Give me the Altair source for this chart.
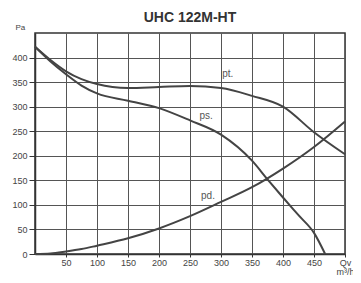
import altair as alt
import pandas as pd

q = [0, 25, 50, 75, 100, 150, 200, 250, 300, 350, 400, 450, 500]
pt = [422, 395, 372, 356, 346, 338, 340, 342, 338, 322, 300, 248, 203]
q_ps = [0, 25, 50, 75, 100, 150, 200, 250, 300, 350, 375, 400, 425, 450, 468]
ps = [422, 392, 366, 343, 327, 312, 297, 272, 243, 190, 152, 115, 79, 43, 0]
pd_vals = [0, 1, 5, 10, 17, 32, 52, 77, 106, 136, 174, 218, 270]

x_ticks = [50, 100, 150, 200, 250, 300, 350, 400, 450, 500]
y_ticks = [0, 50, 100, 150, 200, 250, 300, 350, 400]

label_text = ["pt.", "ps.", "pd."]
label_q = [311, 276, 279]
label_p = [367, 282, 118]

rows = []
for x, y in zip(q, pt):
    rows.append({"Q": x, "P": y, "curve": "pt"})
for x, y in zip(q_ps, ps):
    rows.append({"Q": x, "P": y, "curve": "ps"})
for x, y in zip(q, pd_vals):
    rows.append({"Q": x, "P": y, "curve": "pd"})
df = pd.DataFrame(rows)
labels = pd.DataFrame({"t": label_text, "Q": label_q, "P": label_p})

xscale = alt.Scale(domain=[0, 500], nice=False, zero=True)
yscale = alt.Scale(domain=[0, 450], nice=False)


def xaxis():
    return alt.Axis(values=x_ticks, grid=True,
                    labelExpr="datum.value == 500 ? ['Qv', 'm³/h'] : datum.label",
                    labelOverlap=False, labelFlush=False, title=None,
                    tickSize=3, labelPadding=1, labelLineHeight=9)


def yaxis():
    return alt.Axis(values=y_ticks, grid=True, labelOverlap=False,
                    title="Pa", titleAngle=0, titleX=-20, titleY=-6, titleAlign="left",
                    titleBaseline="middle",
                    titleFontSize=8, titleFontWeight="normal", titleColor="#444",
                    tickSize=6, labelPadding=2)


lines = alt.Chart(df).mark_line(interpolate="monotone", color="#444", strokeWidth=2).encode(
    x=alt.X("Q:Q", scale=xscale, axis=xaxis()),
    y=alt.Y("P:Q", scale=yscale, axis=yaxis()),
    detail="curve:N",
)

text = alt.Chart(labels).mark_text(fontSize=10, color="#555", font="Liberation Sans").encode(
    x=alt.X("Q:Q", scale=xscale, axis=xaxis()),
    y=alt.Y("P:Q", scale=yscale, axis=yaxis()),
    text="t:N",
)

chart = alt.layer(lines, text).properties(
    width=310, height=221,
    title=alt.TitleParams("UHC 122M-HT", fontSize=14, fontWeight="bold", font="Liberation Sans",
                          color="#333", anchor="middle", offset=-2),
    autosize=alt.AutoSizeParams(type="none"),
    padding={"left": 27, "top": 25, "right": 8, "bottom": 21},
).configure_view(stroke="#333", strokeWidth=1.5).configure_axis(
    labelFont="Liberation Sans", labelFontSize=9, labelColor="#444",
    titleFont="Liberation Sans", gridColor="#555", gridWidth=1, gridOpacity=1,
    domainColor="#333", domainWidth=1.5, tickColor="#333",
)

chart.save("out.html", embed_options={"renderer": "svg", "actions": False})
